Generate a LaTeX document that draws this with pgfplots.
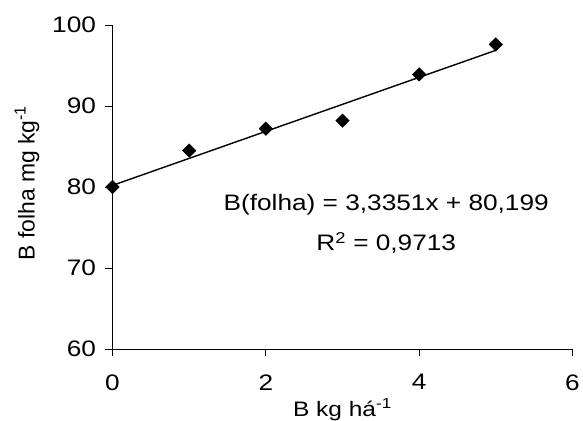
\documentclass[border=0pt]{standalone}
\usepackage{fontspec}
\setmainfont{Liberation Sans}[FakeStretch=1.17]
\newfontfamily\ylfont{Liberation Sans}
\usepackage{pgfplots}
\pgfplotsset{compat=1.18}
\begin{document}
\begin{tikzpicture}
\begin{axis}[
  name=ax,
  scale only axis, width=460bp, height=324bp,
  xmin=0, xmax=6, ymin=60, ymax=100,
  xtick={0,2,4,6}, ytick={60,70,80,90,100},
  axis x line*=bottom, axis y line*=left,
  tick align=outside, major tick length=7bp,
  tick style={black, line width=0.8bp},
  axis line style={black, line width=0.8bp},
  tick label style={font=\fontsize{22.5}{25}\selectfont},
  /pgf/number format/assume math mode=true,
  xticklabel style={yshift=-15bp},
  yticklabel style={xshift=-6bp},
  clip=false,
  xlabel={B kg há\textsuperscript{-1}},
  ylabel={B folha mg kg\textsuperscript{-1}},
  every axis x label/.style={at={(axis description cs:0.5,-0.207)}, anchor=base, font=\fontsize{21}{24}\selectfont},
  every axis y label/.style={at={(axis description cs:-0.186,0.512)}, rotate=90, anchor=center, font=\ylfont\fontsize{23}{26}\selectfont},
]
\addplot[black, line width=1.4bp, no marks] coordinates {(0,80.199) (5,96.8745)};
\addplot[only marks, mark=square*, mark size=4.8bp, mark options={rotate=45, fill=black, draw=black}] coordinates {
(0,80.0) (1,84.5) (2,87.2) (3,88.2) (4,93.9) (5,97.6)};
\node[font=\fontsize{22.5}{25}\selectfont] at (rel axis cs:0.595,0.444) {B(folha) = 3,3351x + 80,199};
\node[font=\fontsize{22.5}{25}\selectfont] at (rel axis cs:0.595,0.327) {R\textsuperscript{2} = 0,9713};
\end{axis}
\pgfresetboundingbox
\path[use as bounding box] ([shift={(-112.5bp,-72bp)}]ax.south west) rectangle ([shift={(470.5bp,349bp)}]ax.south west);
\end{tikzpicture}
\end{document}
